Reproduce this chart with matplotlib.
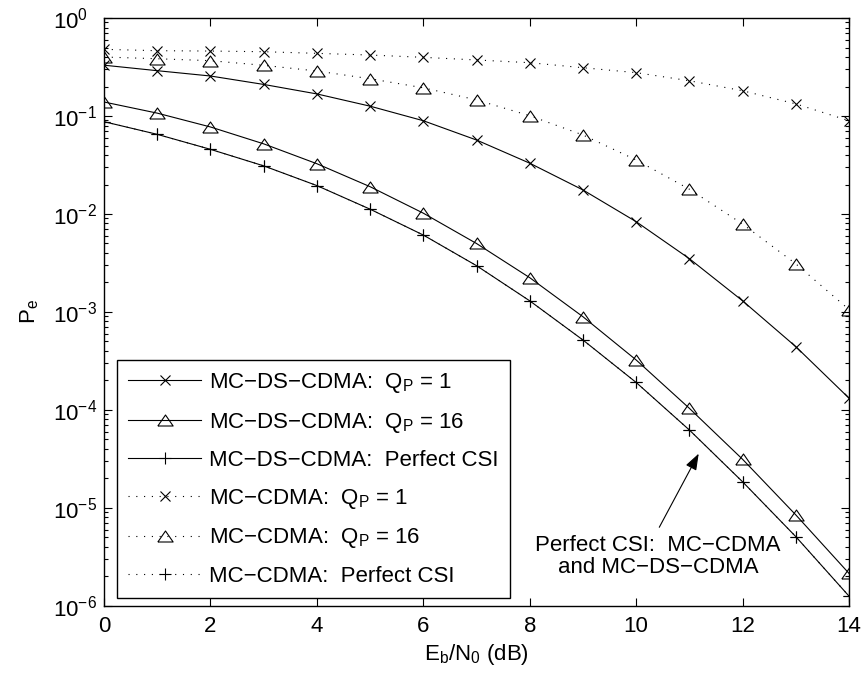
import numpy as np
import matplotlib
matplotlib.use("Agg")
import matplotlib.pyplot as plt
from matplotlib.ticker import LogLocator, NullFormatter

plt.rcParams['font.family'] = ['Liberation Sans', 'DejaVu Sans']
plt.rcParams['mathtext.fontset'] = 'custom'
plt.rcParams['mathtext.rm'] = 'Liberation Sans'
plt.rcParams['mathtext.it'] = 'Liberation Sans'
plt.rcParams['mathtext.default'] = 'regular'

FS = 16

# Eb/N0 en dB
ebn0 = np.arange(0, 15)

# MC-DS-CDMA
ds_qp1 = [0.33, 0.29, 0.256, 0.21, 0.168, 0.126, 0.0895, 0.0569, 0.033,
          0.0176, 0.00835, 0.0035, 0.0013, 0.000443, 0.000132]
ds_qp16 = [0.139, 0.107, 0.0773, 0.052, 0.0326, 0.019, 0.0102, 0.005, 0.00224,
           0.000895, 0.000324, 0.000104, 3.14e-5, 8.5e-6, 2.15e-6]
ds_perfect = [0.0875, 0.065, 0.0457, 0.031, 0.0195, 0.0112, 0.0061, 0.00297, 0.0013,
              0.000518, 0.000191, 6.25e-5, 1.85e-5, 5.1e-6, 1.26e-6]

# MC-CDMA
mc_qp1 = [0.479, 0.464, 0.46, 0.453, 0.436, 0.419, 0.397, 0.373, 0.35,
          0.311, 0.277, 0.229, 0.181, 0.133, 0.0895]
mc_qp16 = [0.40, 0.384, 0.367, 0.329, 0.288, 0.24, 0.194, 0.146, 0.1007,
           0.064, 0.0356, 0.0179, 0.0079, 0.0031, 0.00106]
mc_perfect = list(ds_perfect)  # coincide con MC-DS-CDMA

etiquetas = [
    'MC\u2212DS\u2212CDMA:  Q$_P$ = 1',
    'MC\u2212DS\u2212CDMA:  Q$_P$ = 16',
    'MC\u2212DS\u2212CDMA:  Perfect CSI',
    'MC\u2212CDMA:  Q$_P$ = 1',
    'MC\u2212CDMA:  Q$_P$ = 16',
    'MC\u2212CDMA:  Perfect CSI',
]

# triangulo mas ancho que alto
tri = [(-1, -0.72), (1, -0.72), (0, 0.72), (-1, -0.72)]

fig = plt.figure(figsize=(8.63, 6.77), dpi=100)
ax = fig.add_axes([0.1205, 0.1049, 0.8633, 0.8685])

solido = dict(color='k', lw=0.8, linestyle='-')
punteado = dict(color='k', lw=0.8, linestyle=(0, (1, 6)))
mk = dict(mfc='none', mec='k', mew=0.8)

ax.plot(ebn0, ds_qp1, marker='x', ms=7.5, label=etiquetas[0], **solido, **mk)
ax.plot(ebn0, ds_qp16, marker=tri, ms=11, label=etiquetas[1], **solido, **mk)
ax.plot(ebn0, ds_perfect, marker='+', ms=8.5, label=etiquetas[2], **solido, **mk)
ax.plot(ebn0, mc_qp1, marker='x', ms=7.5, label=etiquetas[3], **punteado, **mk)
ax.plot(ebn0, mc_qp16, marker=tri, ms=11, label=etiquetas[4], **punteado, **mk)
ax.plot(ebn0, mc_perfect, marker='+', ms=8.5, label=etiquetas[5], **punteado, **mk)

ax.set_yscale('log')
ax.set_xlim(0, 14)
ax.set_ylim(1e-6, 1)
ax.set_xticks(np.arange(0, 15, 2))
ax.set_yticks([1e-6, 1e-5, 1e-4, 1e-3, 1e-2, 1e-1, 1])
ax.yaxis.set_minor_locator(LogLocator(base=10, subs=np.arange(2, 10), numticks=20))
ax.yaxis.set_minor_formatter(NullFormatter())

ax.tick_params(which='both', direction='in', top=True, right=True, labelsize=FS)
ax.tick_params(which='major', length=5.5, width=0.8)
ax.tick_params(which='minor', length=3, width=0.8)
ax.tick_params(axis='x', pad=7)
ax.tick_params(axis='y', pad=37)
plt.setp(ax.get_yticklabels(), ha='left')
for s in ax.spines.values():
    s.set_linewidth(1.0)

ax.set_xlabel(r'E$_b$/N$_0$ (dB)', fontsize=FS, labelpad=4)
ax.set_ylabel(r'P$_e$', fontsize=FS, labelpad=8)

leg = ax.legend(loc='lower left', bbox_to_anchor=(0.0174, 0.0136), borderaxespad=0,
                fontsize=FS, frameon=True, fancybox=False, edgecolor='k',
                framealpha=1, handlelength=3.3, handletextpad=0.35,
                labelspacing=0.7, borderpad=0.5, numpoints=1)
leg.get_frame().set_linewidth(1.0)

# flecha que senala las curvas de CSI perfecta
ax.annotate('', xy=(11.2, 3.8e-5), xytext=(10.41, 6.0e-6),
            arrowprops=dict(arrowstyle='-|>,head_length=0.5,head_width=0.18',
                            color='k', lw=0.8, mutation_scale=20))
ax.text(10.41, 3.2e-6, 'Perfect CSI:  MC\u2212CDMA\nand MC\u2212DS\u2212CDMA',
        ha='center', va='center', fontsize=FS, linespacing=1.1)

fig.savefig('out.png', dpi=100)
